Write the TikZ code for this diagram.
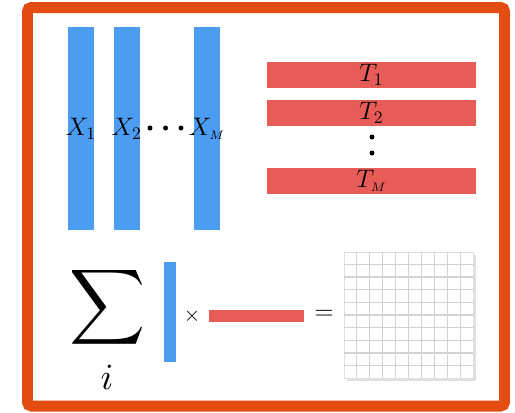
\documentclass[tikz,border=0pt]{standalone}
\usepackage{amsmath}
\usepackage{xcolor}
\usetikzlibrary{positioning, calc, shadows}
\definecolor{colblue}{RGB}{76,157,242}
\definecolor{colred}{RGB}{232,92,88}
\definecolor{colframe}{RGB}{228,77,18}

\begin{document}
\begin{tikzpicture}[x=0.02cm, y=-0.02cm,
    col/.style={rectangle, fill=colblue, minimum width=0.52cm, minimum height=4.06cm,
                inner sep=0pt, label={[font=\Large, inner sep=0pt]center:#1}},
    row/.style={rectangle, fill=colred, minimum width=4.18cm, minimum height=0.52cm,
                inner sep=0pt, label={[font=\Large, inner sep=0pt]center:#1}},
    dot/.style={circle, fill=black, inner sep=0pt, minimum size=0.1cm},
    gridline/.style={gray!35, line width=0.6pt}
  ]
    \useasboundingbox (0,0) rectangle (515,413);

    % Frame
    \draw[colframe, line width=0.22cm, rounded corners=0.08cm] (27.5,7.5) rectangle (504.5,406);

    % Feature columns
    \node[col=$X_1$] (x1) at (81,128.5) {};
    \node[col=$X_2$, right=0.38cm of x1] (x2) {};
    \node[col=$X_{\scriptscriptstyle M}$] (xm) at (207,128.5) {};
    \node[dot] (hd1) at (150,128) {};
    \node[dot] (hd2) at (165.5,128) {};
    \node[dot] (hd3) at (181,128) {};

    % Transform rows
    \node[row=$T_1$] (t1) at (371.5,75) {};
    \node[row=$T_2$, below=0.22cm of t1] (t2) {};
    \node[row=$T_{\scriptscriptstyle M}$] (tm) at (371.5,181) {};
    \node[dot] (vd1) at (372,137) {};
    \node[dot] (vd2) at (372,153) {};

    % Outer product sum
    \node[scale=3] (sum) at (108,307) {$\displaystyle\sum$};
    \node[scale=2.1] (idx) at (107,377) {$i$};
    \node[fill=colblue, minimum width=0.24cm, minimum height=2cm, inner sep=0pt] (vec) at (170,312) {};
    \node[font=\large] (times) at (192,316) {$\times$};
    \node[fill=colred, minimum width=1.9cm, minimum height=0.24cm, inner sep=0pt] (cvec) at (256.5,316) {};
    \node[font=\Large] (eq) at (324,315) {$=$};
    \node[fill=white, draw=gray!25, drop shadow={opacity=0.25, shadow xshift=1.5pt, shadow yshift=-1.5pt},
          minimum width=2.58cm, minimum height=2.52cm, inner sep=0pt] (mat) at (408.5,315) {};
    \foreach \k in {1,...,9} {
      \draw[gridline] ($(mat.north west)!\k/10!(mat.north east)$) -- ($(mat.south west)!\k/10!(mat.south east)$);
      \draw[gridline] ($(mat.north west)!\k/10!(mat.south west)$) -- ($(mat.north east)!\k/10!(mat.south east)$);
    }
\end{tikzpicture}
\end{document}
